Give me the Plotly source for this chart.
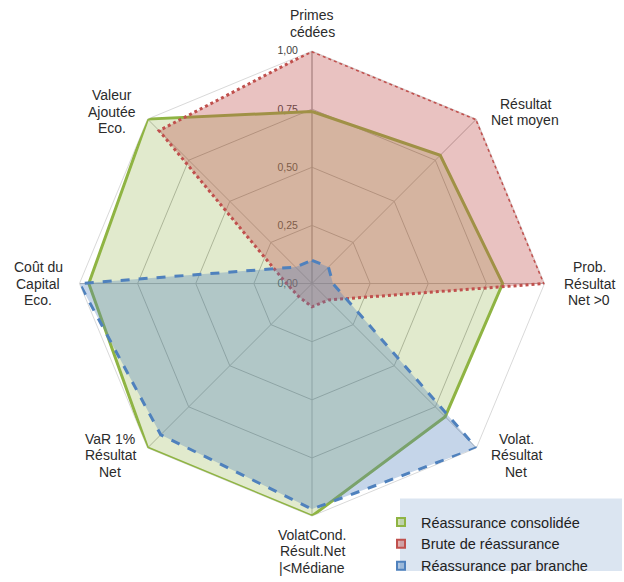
import plotly.graph_objects as go

categories = [
    "Primes<br>cédées",
    "Résultat<br>Net moyen",
    "Prob.<br>Résultat<br>Net >0",
    "Volat.<br>Résultat<br>Net",
    "VolatCond.<br>Résult.Net<br>|<Médiane",
    "VaR 1%<br>Résultat<br>Net",
    "Coût du<br>Capital<br>Eco.",
    "Valeur<br>Ajoutée<br>Eco.",
]

consolidee = [0.74, 0.78, 0.82, 0.81, 1.00, 1.00, 0.96, 1.00]
brute = [1.00, 1.00, 1.00, 0.10, 0.10, 0.08, 0.11, 0.93]
par_branche = [0.10, 0.10, 0.09, 1.00, 0.97, 0.92, 1.00, 0.10]

tick_vals = [0, 0.25, 0.5, 0.75, 1.0]
tick_text = ["0,00", "0,25", "0,50", "0,75", "1,00"]

series = [
    ("Réassurance consolidée", consolidee, "#8fb443", "rgba(155,187,89,0.30)", "solid"),
    ("Brute de réassurance", brute, "#c0504d", "rgba(192,80,77,0.35)", "dot"),
    ("Réassurance par branche", par_branche, "#4f81bd", "rgba(79,129,189,0.33)", "dash"),
]

W, H = 624, 582
cx, cy, R = 312, 289, 237

fig = go.Figure()
for name, vals, lc, fc, dash in series:
    fig.add_trace(go.Scatterpolar(
        r=vals + vals[:1],
        theta=categories + categories[:1],
        name=name,
        mode="lines",
        fill="toself",
        fillcolor=fc,
        line=dict(color=lc, width=3, dash=dash),
        showlegend=False,
    ))
# legend entries with small square symbols
for name, vals, lc, fc, dash in series:
    fig.add_trace(go.Scatterpolar(
        r=[None], theta=[categories[0]],
        name=name,
        mode="markers",
        marker=dict(symbol="square", size=8, color=fc.replace("0.3", "0.45"),
                    line=dict(color=lc, width=2)),
        showlegend=True,
    ))

# category labels as annotations (pixel positions of label centres)
label_pos = [(312, 24), (525, 114), (589, 289), (516, 464),
             (312, 562), (110, 464), (38, 289), (112, 114)]
line_gap = 16.8
annotations = []
for cat, (lx, ly) in zip(categories, label_pos):
    lines = cat.split("<br>")
    n = len(lines)
    for i, t in enumerate(lines):
        yy = ly + (i - (n - 1) / 2) * line_gap
        annotations.append(dict(
            x=lx / W, y=(H - yy) / H, xref="paper", yref="paper",
            text=t, showarrow=False, xanchor="center", yanchor="middle",
            font=dict(size=14, color="#2b2b2b"),
        ))

fig.update_layout(
    width=W, height=H,
    margin=dict(l=0, r=0, t=0, b=0),
    paper_bgcolor="white",
    font=dict(family="Liberation Sans, Arial, sans-serif", size=12, color="#333333"),
    polar=dict(
        domain=dict(x=[(cx - R) / W, (cx + R) / W],
                    y=[(H - cy - R) / H, (H - cy + R) / H]),
        bgcolor="white",
        gridshape="linear",
        radialaxis=dict(
            range=[0, 1],
            tickvals=tick_vals,
            ticktext=tick_text,
            angle=90,
            side="counterclockwise",
            tickangle=90,
            showline=True,
            linecolor="#a6a6a6",
            gridcolor="#b5b5b5",
            ticks="outside",
            ticklen=10,
            tickcolor="rgba(0,0,0,0)",
            tickfont=dict(size=10.5, color="#404040"),
            layer="below traces",
        ),
        angularaxis=dict(
            rotation=90,
            direction="clockwise",
            showline=True,
            linecolor="#d9d9d9",
            gridcolor="#b5b5b5",
            ticks="",
            showticklabels=False,
            layer="below traces",
        ),
    ),
    shapes=[dict(type="rect", xref="paper", yref="paper",
                 x0=400 / W, x1=622 / W, y0=0, y1=(H - 508) / H,
                 fillcolor="#dbe5f1", line=dict(width=0), layer="below")],
    annotations=annotations,
    legend=dict(
        x=381 / W, y=(H - 516) / H, xanchor="left", yanchor="top",
        bgcolor="rgba(0,0,0,0)",
        font=dict(size=14.5, color="#222222"),
        tracegroupgap=0,
    ),
)

fig.write_html("out.html")
